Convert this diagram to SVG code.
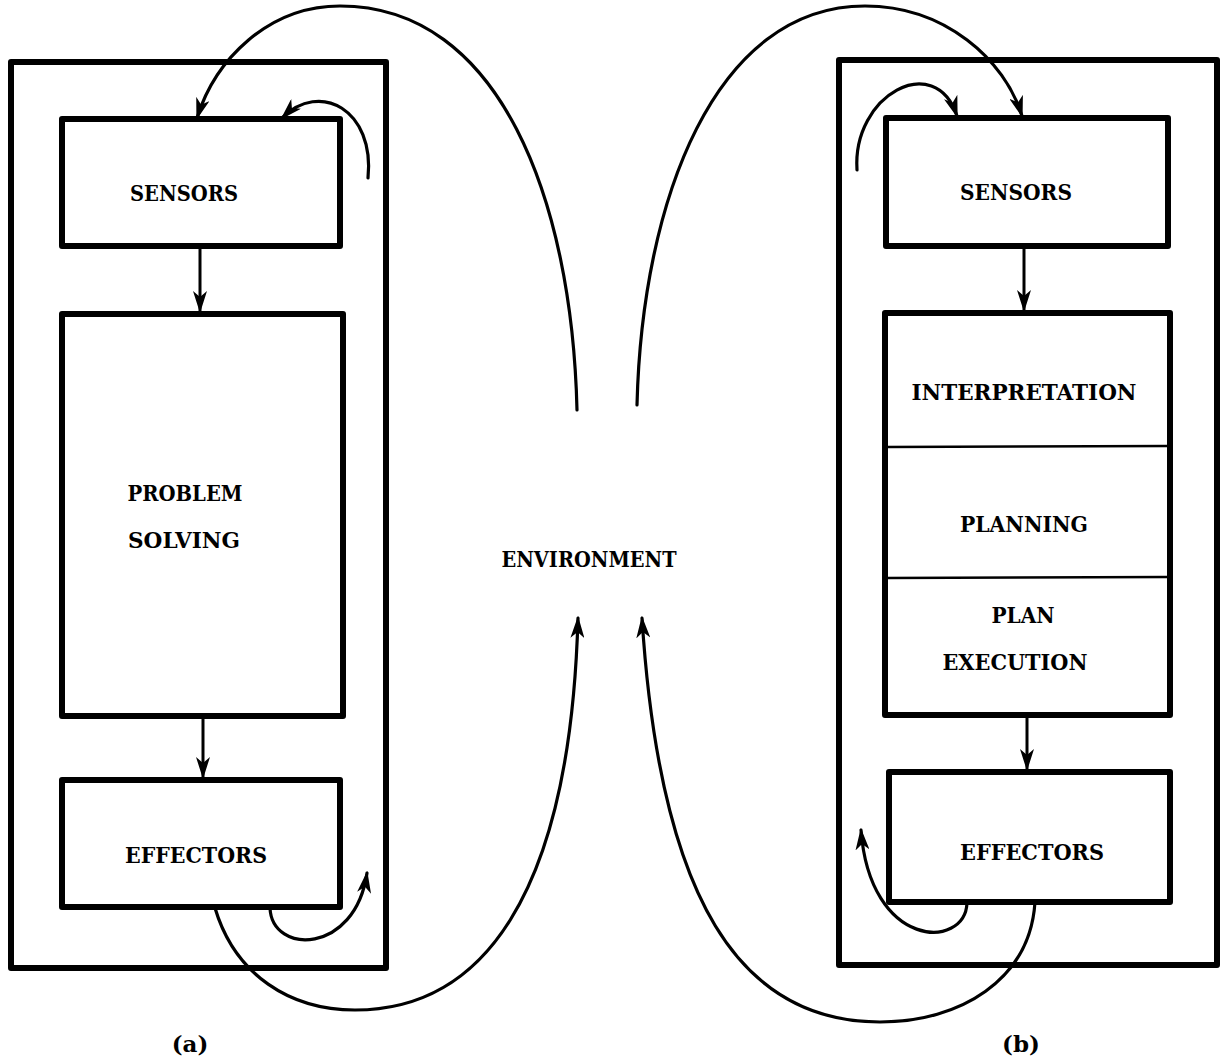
<svg xmlns="http://www.w3.org/2000/svg" width="1223" height="1062" viewBox="0 0 1223 1062">
<style>
.box{fill:none;stroke:#000;stroke-width:6;stroke-linejoin:round}
.div{fill:none;stroke:#000;stroke-width:2.5}
.c{fill:none;stroke:#000;stroke-width:3.2;stroke-linecap:round}
.v{fill:none;stroke:#000;stroke-width:3}
text{font-family:"DejaVu Serif","Liberation Serif",serif;font-weight:bold;font-size:23px;fill:#000;text-anchor:middle}
</style>
<defs>
<marker id="ah" viewBox="0 0 22 14" refX="20" refY="7" markerWidth="22" markerHeight="14" markerUnits="userSpaceOnUse" orient="auto">
<path d="M0 0 L22 7 L0 14 L6 7 Z" fill="#000"/>
</marker>
</defs>
<rect width="1223" height="1062" fill="#fff"/>

<g id="left-frame"><rect class="box" x="11" y="62" width="375" height="906"/></g>
<g id="left-sensors"><rect class="box" x="62" y="119" width="278" height="127"/><text x="184" y="201" textLength="108" lengthAdjust="spacingAndGlyphs">SENSORS</text></g>
<g id="left-problem"><rect class="box" x="62" y="314" width="281" height="402"/><text x="185" y="501" textLength="115" lengthAdjust="spacingAndGlyphs">PROBLEM</text><text x="184" y="548" textLength="112" lengthAdjust="spacingAndGlyphs">SOLVING</text></g>
<g id="left-effectors"><rect class="box" x="62" y="780" width="278" height="127"/><text x="196" y="863" textLength="142" lengthAdjust="spacingAndGlyphs">EFFECTORS</text></g>

<g id="right-frame"><rect class="box" x="839" y="60" width="378" height="905"/></g>
<g id="right-sensors"><rect class="box" x="886" y="118" width="282" height="128"/><text x="1016" y="200" textLength="112" lengthAdjust="spacingAndGlyphs">SENSORS</text></g>
<g id="right-middle"><rect class="box" x="885" y="313" width="285" height="402"/>
<line class="div" x1="887" y1="447" x2="1168" y2="446"/><line class="div" x1="887" y1="578" x2="1168" y2="577"/>
<text x="1024" y="400" textLength="225" lengthAdjust="spacingAndGlyphs">INTERPRETATION</text>
<text x="1024" y="532" textLength="128" lengthAdjust="spacingAndGlyphs">PLANNING</text>
<text x="1023" y="623" textLength="63" lengthAdjust="spacingAndGlyphs">PLAN</text>
<text x="1015" y="670" textLength="145" lengthAdjust="spacingAndGlyphs">EXECUTION</text></g>
<g id="right-effectors"><rect class="box" x="889" y="772" width="281" height="130"/><text x="1032" y="860" textLength="144" lengthAdjust="spacingAndGlyphs">EFFECTORS</text></g>

<g id="environment"><text x="589" y="567" textLength="175" lengthAdjust="spacingAndGlyphs">ENVIRONMENT</text></g>
<g id="labels"><text x="190" y="1052" font-size="25">(a)</text><text x="1021" y="1052" font-size="25">(b)</text></g>

<g id="connectors">
<line class="v" x1="200" y1="249" x2="200" y2="311" marker-end="url(#ah)"/>
<line class="v" x1="203" y1="719" x2="203" y2="777" marker-end="url(#ah)"/>
<line class="v" x1="1024" y1="249" x2="1024" y2="310" marker-end="url(#ah)"/>
<line class="v" x1="1027" y1="718" x2="1027" y2="769" marker-end="url(#ah)"/>
<path class="c" d="M 577 410 C 572 200, 500 6, 340 6 C 268 6, 215 60, 197 118" marker-end="url(#ah)"/>
<path class="c" d="M 368 178 C 375 110, 320 80, 282 118" marker-end="url(#ah)"/>
<path class="c" d="M 270 908 C 272 955, 355 955, 367 873" marker-end="url(#ah)"/>
<path class="c" d="M 215 908 C 235 975, 290 1010, 355 1010 C 480 1010, 570 900, 578 618" marker-end="url(#ah)"/>
<path class="c" d="M 637 405 C 642 200, 715 6, 865 6 C 945 6, 1005 60, 1022 116" marker-end="url(#ah)"/>
<path class="c" d="M 857 170 C 852 95, 935 50, 957 116" marker-end="url(#ah)"/>
<path class="c" d="M 967 903 C 965 950, 870 950, 861 830" marker-end="url(#ah)"/>
<path class="c" d="M 1035 902 C 1030 980, 960 1022, 880 1022 C 740 1022, 660 900, 642 618" marker-end="url(#ah)"/>
</g>
</svg>
